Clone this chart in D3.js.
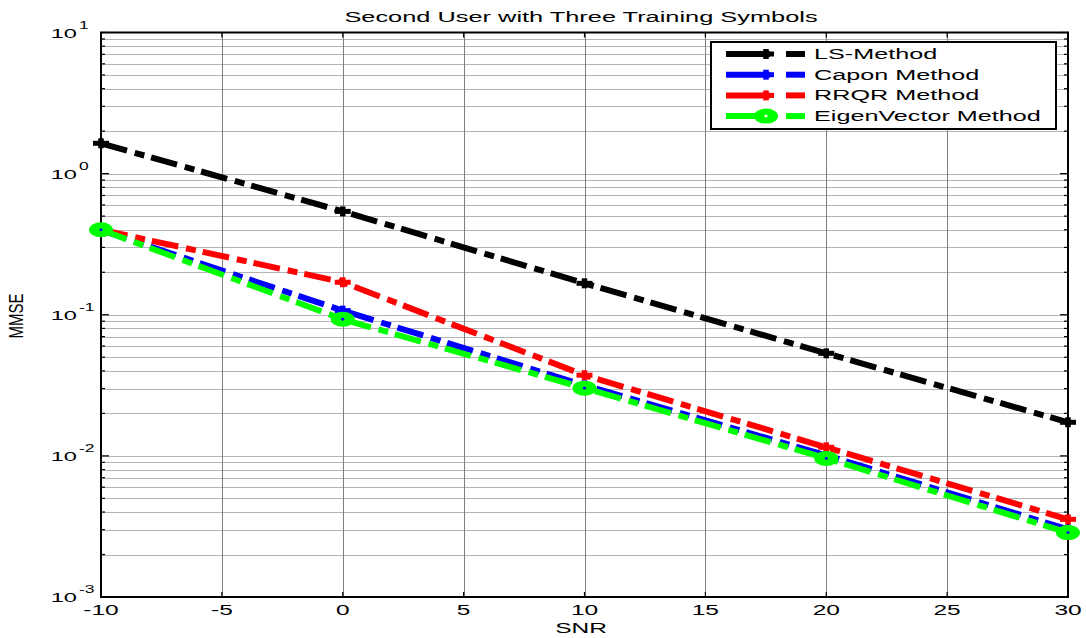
<!DOCTYPE html>
<html>
<head>
<meta charset="utf-8">
<script src="https://cdn.jsdelivr.net/npm/d3@7"></script>
<style>
  body { margin: 0; background: #fff; }
  svg { display: block; font-family: "Liberation Sans", Arial, sans-serif; }
</style>
</head>
<body>
<svg id="chart" width="1086" height="638"></svg>
<script>
// data
const snr = [-10, 0, 10, 20, 30];
const lsMse = [1.64, 0.54, 0.167, 0.0533, 0.0173];
const caponMse = [0.397, 0.107, 0.0316, 0.0101, 0.00301];
const rrqrMse = [0.40, 0.170, 0.0373, 0.0115, 0.00355];
const eigenMse = [0.40, 0.0929, 0.0302, 0.0096, 0.00286];

const seriesNames = ['LS-Method', 'Capon Method', 'RRQR Method', 'EigenVector Method'];
const seriesColors = ['#000000', '#0000ff', '#ff0000', '#00ff00'];
const seriesMarkers = ['plus', 'plus', 'plus', 'circle'];
const seriesValues = [lsMse, caponMse, rrqrMse, eigenMse];

const xTicks = [-10, -5, 0, 5, 10, 15, 20, 25, 30];
const yDecades = [-3, -2, -1, 0, 1];

const svg = d3.select('#chart');
const plotLeft = 101, plotRight = 1068, plotTop = 32.5, plotBottom = 597;
// the picture is stretched sideways, so text is scaled the same way
const sx = 1.75;

const x = d3.scaleLinear().domain([-10, 30]).range([plotLeft, plotRight]);
const y = d3.scaleLog().domain([1e-3, 10]).range([plotBottom, plotTop]);

// grid
const gridG = svg.append('g');
gridG.selectAll('line.hgrid')
    .data(y.ticks().filter(d => d > 1e-3 * 1.001 && d < 10 * 0.999))
    .join('line')
    .attr('x1', plotLeft).attr('x2', plotRight)
    .attr('y1', d => Math.round(y(d)) + 0.5).attr('y2', d => Math.round(y(d)) + 0.5)
    .attr('stroke', '#b4b4b4').attr('stroke-width', 1);
gridG.selectAll('line.vgrid')
    .data(xTicks.slice(1, -1))
    .join('line')
    .attr('x1', d => Math.round(x(d)) + 0.5).attr('x2', d => Math.round(x(d)) + 0.5)
    .attr('y1', plotTop).attr('y2', plotBottom)
    .attr('stroke', '#808080').attr('stroke-width', 1);

// ticks (inside)
const tickG = svg.append('g').attr('stroke', '#000').attr('stroke-width', 1.2);
y.ticks().forEach(d => {
    const major = yDecades.some(k => Math.abs(Math.log10(d) - k) < 1e-6);
    const len = major ? 8 : 4;
    tickG.append('line').attr('x1', plotLeft).attr('x2', plotLeft + len).attr('y1', y(d)).attr('y2', y(d));
    tickG.append('line').attr('x1', plotRight).attr('x2', plotRight - len).attr('y1', y(d)).attr('y2', y(d));
});
xTicks.forEach(d => {
    tickG.append('line').attr('x1', x(d)).attr('x2', x(d)).attr('y1', plotBottom).attr('y2', plotBottom - 5);
    tickG.append('line').attr('x1', x(d)).attr('x2', x(d)).attr('y1', plotTop).attr('y2', plotTop + 5);
});

// axis box
svg.append('rect')
    .attr('x', plotLeft).attr('y', plotTop)
    .attr('width', plotRight - plotLeft).attr('height', plotBottom - plotTop)
    .attr('fill', 'none').attr('stroke', '#000').attr('stroke-width', 2);

// tick labels
function stretchedText(g, tx, ty, str, size, anchor) {
    return g.append('text')
        .attr('transform', `translate(${tx},${ty}) scale(${sx},1)`)
        .attr('text-anchor', anchor || 'middle')
        .attr('font-size', size)
        .attr('fill', '#000')
        .text(str);
}

const labelG = svg.append('g');
xTicks.forEach(d => stretchedText(labelG, x(d), 615, String(d), 14));
yDecades.forEach(k => {
    const ty = y(Math.pow(10, k));
    stretchedText(labelG, 77, ty + 5, '10', 13.5, 'end');
    stretchedText(labelG, 79, ty - 4, String(k), 10, 'start');
});

// title and axis labels
stretchedText(svg, 581, 22, 'Second User with Three Training Symbols', 14.5);
stretchedText(svg, 581, 633, 'SNR', 14);
svg.append('text')
    .attr('transform', 'translate(23,316) rotate(-90) scale(1,1.35)')
    .attr('text-anchor', 'middle')
    .attr('font-size', 15)
    .text('MMSE');

// markers
function drawMarker(g, cx, cy, type, color, holeColor) {
    if (type === 'circle') {
        g.append('ellipse').attr('cx', cx).attr('cy', cy).attr('rx', 12).attr('ry', 7.5)
            .attr('fill', color);
        g.append('ellipse').attr('cx', cx).attr('cy', cy).attr('rx', 1.6).attr('ry', 1.4)
            .attr('fill', holeColor);
    } else {
        g.append('line').attr('x1', cx - 8).attr('x2', cx + 8).attr('y1', cy).attr('y2', cy)
            .attr('stroke', color).attr('stroke-width', 5);
        g.append('line').attr('x1', cx).attr('x2', cx).attr('y1', cy - 5).attr('y2', cy + 5)
            .attr('stroke', color).attr('stroke-width', 5.5);
    }
}

const line = d3.line().x(d => x(d.snr)).y(d => y(d.v));
const holeColors = ['#fff', '#fff', '#fff', '#0000ff'];

seriesValues.forEach((vals, i) => {
    const pts = snr.map((s, j) => ({snr: s, v: vals[j]}));
    const g = svg.append('g');
    g.append('path')
        .attr('d', line(pts))
        .attr('fill', 'none')
        .attr('stroke', seriesColors[i])
        .attr('stroke-width', 6)
        .attr('stroke-dasharray', '27,8,10,7');
    pts.forEach(p => drawMarker(g, x(p.snr), y(p.v), seriesMarkers[i], seriesColors[i], holeColors[i]));
});

// legend
const legend = svg.append('g');
legend.append('rect')
    .attr('x', 711).attr('y', 42).attr('width', 345).attr('height', 87)
    .attr('fill', '#fff').attr('stroke', '#000').attr('stroke-width', 2);
seriesNames.forEach((name, i) => {
    const ly = 54 + i * 20.7;
    const c = seriesColors[i];
    legend.append('line').attr('x1', 726).attr('x2', 770).attr('y1', ly).attr('y2', ly)
        .attr('stroke', c).attr('stroke-width', 6);
    legend.append('line').attr('x1', 786).attr('x2', 805).attr('y1', ly).attr('y2', ly)
        .attr('stroke', c).attr('stroke-width', 6);
    drawMarker(legend, 766, ly, seriesMarkers[i], c, '#fff');
    stretchedText(legend, 814, ly + 5, name, 14.4, 'start');
});
</script>
</body>
</html>
